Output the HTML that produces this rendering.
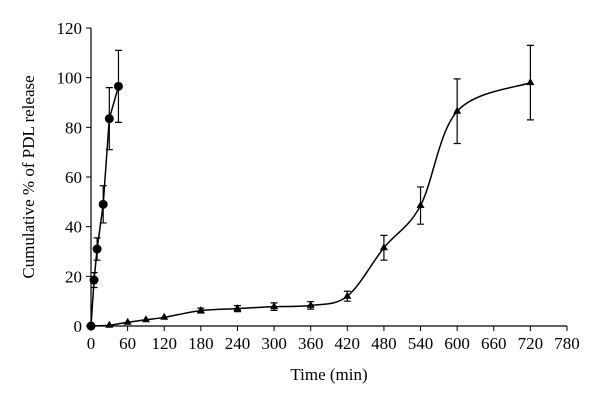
<!DOCTYPE html>
<html><head><meta charset="utf-8"><style>
body{margin:0;background:#fff;}
svg{display:block;font-family:"Liberation Serif",serif;}
</style></head><body>
<svg id="chart" width="600" height="406" viewBox="0 0 600 406" xmlns="http://www.w3.org/2000/svg">
<g id="axes"></g>
<g id="series"></g>
<text x="329" y="380" font-size="17" text-anchor="middle">Time (min)</text>
<text transform="translate(34,177) rotate(-90)" font-size="17" text-anchor="middle">Cumulative % of PDL release</text>
</svg>
<script>
const xTicks=[0,60,120,180,240,300,360,420,480,540,600,660,720,780];
const yTicks=[0,20,40,60,80,100,120];
const timesA=[0,5,10,20,30,45];
const valuesA=[0,18.5,31,49,83.5,96.5];
const errorsA=[0,3,4.5,7.5,12.5,14.5];
const timesB=[0,30,60,90,120,180,240,300,360,420,480,540,600,720];
const valuesB=[0,0.3,1.5,2.5,3.5,6.2,7,7.8,8.3,12,31.5,48.5,86.5,98];
const errorsB=[0,0,0,0,0,1,1.2,1.5,1.5,2,5,7.5,13,15];
const NS="http://www.w3.org/2000/svg";
const X0=91,X1=567,Y0=326,Y1=28;
const sx=v=>X0+(v/780)*(X1-X0);
const sy=v=>Y0-(v/120)*(Y0-Y1);
function mk(tag,attrs,parent){const e=document.createElementNS(NS,tag);for(const k in attrs)e.setAttribute(k,attrs[k]);parent.appendChild(e);return e;}
const axes=document.getElementById('axes'),ser=document.getElementById('series');
let a=mk('line',{x1:X0,y1:Y0,x2:X1,y2:Y0,stroke:'#000','stroke-width':1.2},axes);

a=mk('line',{x1:X0,y1:Y0,x2:X0,y2:Y1,stroke:'#000','stroke-width':1.2},axes);

xTicks.forEach(t=>{const x=sx(t);
 const l=mk('line',{x1:x,y1:Y0,x2:x,y2:Y0+5,stroke:'#000'},axes);
 
 const tx=mk('text',{x:x,y:Y0+23,'font-size':17,'text-anchor':'middle'},axes);tx.textContent=t;
 });
yTicks.forEach(t=>{const y=sy(t);
 const l=mk('line',{x1:X0-5,y1:y,x2:X0,y2:y,stroke:'#000'},axes);
 
 const tx=mk('text',{x:X0-9,y:y+6,'font-size':17,'text-anchor':'end'},axes);tx.textContent=t;
 });
function errBars(ts,vs,es,name){ts.forEach((t,i)=>{if(!es[i])return;const x=sx(t),y1=sy(vs[i]+es[i]),y2=sy(vs[i]-es[i]);
 const p=mk('path',{d:`M${x},${y1}V${y2}M${x-3.5},${y1}H${x+3.5}M${x-3.5},${y2}H${x+3.5}`,stroke:'#000','stroke-width':1.2,fill:'none'},ser);
 });}
// Series A: straight lines
const ptsA=timesA.map((t,i)=>[sx(t),sy(valuesA[i])]);
let pa=mk('polyline',{points:ptsA.map(p=>p.join(',')).join(' '),fill:'none',stroke:'#000','stroke-width':1.5},ser);

errBars(timesA,valuesA,errorsA,'series-a');
ptsA.forEach(p=>{const c=mk('circle',{cx:p[0],cy:p[1],r:4.5,fill:'#000'},ser);
 });
// Series B: smooth curve
const ptsB=timesB.map((t,i)=>[sx(t),sy(valuesB[i])]);
let d=`M${ptsB[0][0]},${ptsB[0][1]}`;
for(let i=0;i<ptsB.length-1;i++){const p0=ptsB[Math.max(i-1,0)],p1=ptsB[i],p2=ptsB[i+1],p3=ptsB[Math.min(i+2,ptsB.length-1)];
 const k=1/6;d+=` C${p1[0]+(p2[0]-p0[0])*k},${p1[1]+(p2[1]-p0[1])*k} ${p2[0]-(p3[0]-p1[0])*k},${p2[1]-(p3[1]-p1[1])*k} ${p2[0]},${p2[1]}`;}
let pb=mk('path',{d:d,fill:'none',stroke:'#000','stroke-width':1.5},ser);

errBars(timesB,valuesB,errorsB,'series-b');
ptsB.forEach(p=>{const m=mk('path',{d:`M${p[0]},${p[1]-4.5}L${p[0]+4},${p[1]+2.5}L${p[0]-4},${p[1]+2.5}Z`,fill:'#000'},ser);
 });
</script>
</body></html>
